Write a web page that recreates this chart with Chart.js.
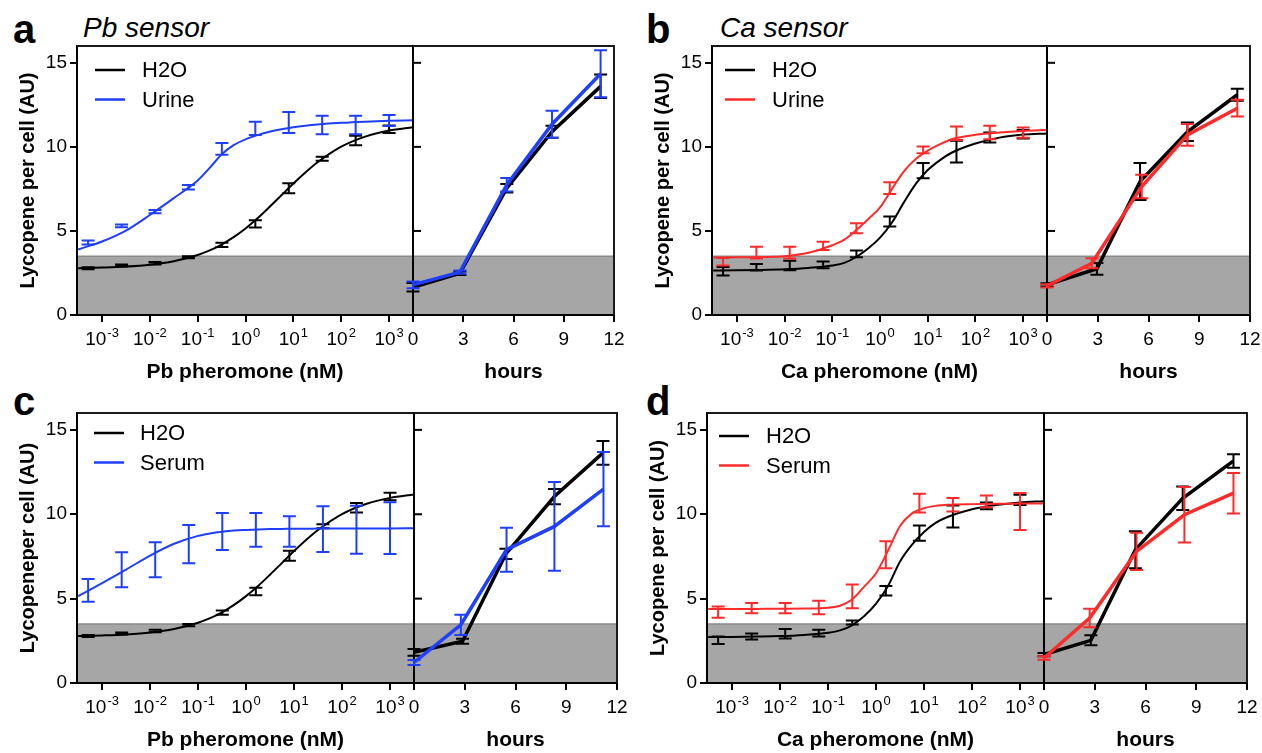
<!DOCTYPE html>
<html>
<head>
<meta charset="utf-8">
<script src="https://cdn.jsdelivr.net/npm/chart.js@4.4.1/dist/chart.umd.min.js"></script>
<style>
  body { margin: 0; background: #fff; }
  #fig { position: relative; width: 1262px; height: 753px; overflow: hidden; font-family: "Liberation Sans", Arial, sans-serif; color: #000; }
  #fig canvas { position: absolute; }
  .letter { position: absolute; font-size: 40px; font-weight: bold; line-height: 1; }
  .sensor { position: absolute; font-size: 28px; font-style: italic; line-height: 1; }
</style>
</head>
<body>
<div id="fig">
  <div class="letter" style="left:13px;top:9px">a</div>
  <div class="sensor" style="left:83px;top:14px">Pb sensor</div>
  <div class="letter" style="left:646px;top:9px">b</div>
  <div class="sensor" style="left:720px;top:14px">Ca sensor</div>
  <div class="letter" style="left:13px;top:381px">c</div>
  <div class="letter" style="left:646px;top:381px">d</div>
</div>
<script>
// pheromone doses of the ten wells (nM)
const doses = [0.000512, 0.00256, 0.0128, 0.064, 0.32, 1.6, 8, 40, 200, 1000];
const fitDoses = [0.000317, 0.001, 0.00316, 0.01, 0.0316, 0.1, 0.178, 0.316, 0.562, 1, 1.78, 3.16, 5.62, 10, 17.8, 31.6, 100, 316, 1000, 3160];

const doseTicks = [0.001, 0.01, 0.1, 1, 10, 100, 1000];
const doseTickExps = ['-3', '-2', '-1', '0', '1', '2', '3'];
const hourTicks = [0, 3, 6, 9, 12];
const yTicks = [0, 5, 10, 15];
const background = 3.5;

// a: Pb sensor, H2O vs urine
const pbWater = [2.78, 2.94, 3.08, 3.43, 4.17, 5.42, 7.54, 9.29, 10.38, 11.05];
const pbWaterErr = [0.06, 0.06, 0.07, 0.06, 0.12, 0.22, 0.3, 0.12, 0.28, 0.22];
const pbWaterFit = [2.78, 2.82, 2.88, 2.99, 3.2, 3.57, 3.84, 4.19, 4.63, 5.15, 5.75, 6.42, 7.12, 7.82, 8.48, 9.07, 10.01, 10.61, 10.97, 11.17];
const pbUrine = [4.31, 5.3, 6.15, 7.6, 9.88, 11.1, 11.45, 11.3, 11.3, 11.57];
const pbUrineErr = [0.12, 0.08, 0.1, 0.13, 0.35, 0.4, 0.62, 0.55, 0.55, 0.33];
const pbUrineFit = [3.9, 4.37, 5.02, 5.95, 6.95, 8.0, 8.75, 9.55, 10.1, 10.45, 10.7, 10.9, 11.05, 11.17, 11.26, 11.33, 11.43, 11.5, 11.55, 11.58];

const aHoursWater = [0, 2.8, 5.6, 8.3, 11.2];
const aTimeWater = [1.65, 2.48, 7.54, 10.9, 13.6];
const aTimeWaterErr = [0.25, 0.1, 0.25, 0.35, 0.7];
const aHoursUrine = [0, 2.8, 5.6, 8.3, 11.2];
const aTimeUrine = [1.79, 2.55, 7.75, 11.35, 14.35];
const aTimeUrineErr = [0.2, 0.1, 0.4, 0.8, 1.4];

// b: Ca sensor, H2O vs urine
const caWater = [2.6, 2.84, 2.94, 2.98, 3.63, 5.56, 8.59, 9.72, 10.56, 10.75];
const caWaterErr = [0.25, 0.2, 0.28, 0.2, 0.2, 0.3, 0.45, 0.65, 0.3, 0.25];
const caWaterFit = [2.65, 2.66, 2.68, 2.72, 2.8, 2.95, 3.1, 3.45, 3.95, 4.6, 5.5, 6.7, 7.8, 8.62, 9.2, 9.65, 10.2, 10.55, 10.73, 10.8];
const caUrine = [3.17, 3.71, 3.71, 4.11, 5.16, 7.54, 9.82, 10.81, 10.85, 10.85];
const caUrineErr = [0.22, 0.35, 0.35, 0.25, 0.3, 0.35, 0.2, 0.4, 0.4, 0.3];
const caUrineFit = [3.42, 3.43, 3.45, 3.5, 3.7, 4.15, 4.48, 5.05, 5.7, 6.4, 7.5, 8.55, 9.28, 9.78, 10.15, 10.45, 10.72, 10.86, 10.95, 11.0];

const bHoursWater = [0, 2.95, 5.5, 8.3, 11.25];
const bTimeWater = [1.79, 2.75, 7.94, 10.9, 13.1];
const bTimeWaterErr = [0.1, 0.35, 1.1, 0.55, 0.35];
const bHoursUrine = [0, 2.65, 5.6, 8.3, 11.25];
const bTimeUrine = [1.73, 3.08, 7.64, 10.71, 12.3];
const bTimeUrineErr = [0.1, 0.3, 0.7, 0.65, 0.5];

// c: Pb sensor, H2O vs serum
const pbSerum = [5.49, 6.71, 7.3, 8.23, 8.98, 9.08, 8.98, 9.12, 9.08, 9.18];
const pbSerumErr = [0.67, 1.04, 1.04, 1.14, 1.1, 1.0, 0.9, 1.36, 1.42, 1.53];
const pbSerumFit = [5.15, 5.92, 6.72, 7.55, 8.25, 8.72, 8.86, 8.96, 9.03, 9.07, 9.1, 9.12, 9.13, 9.14, 9.14, 9.15, 9.15, 9.16, 9.16, 9.17];

const cHoursWater = [0, 2.87, 5.43, 8.3, 11.17];
const cTimeWater = [1.82, 2.47, 7.65, 11.05, 13.64];
const cTimeWaterErr = [0.2, 0.15, 0.3, 0.45, 0.7];
const cHoursSerum = [0, 2.77, 5.47, 8.3, 11.2];
const cTimeSerum = [1.22, 3.45, 7.9, 9.28, 11.49];
const cTimeSerumErr = [0.15, 0.6, 1.3, 2.63, 2.2];

// d: Ca sensor, H2O vs serum
const caWater2 = [2.53, 2.76, 2.92, 2.96, 3.59, 5.47, 8.88, 9.87, 10.5, 10.85];
const caWater2Err = [0.22, 0.18, 0.28, 0.2, 0.12, 0.28, 0.45, 0.65, 0.2, 0.3];
const caWater2Fit = [2.72, 2.73, 2.75, 2.78, 2.85, 2.98, 3.12, 3.42, 3.95, 4.7, 5.75, 7.2, 8.2, 8.95, 9.5, 9.85, 10.3, 10.55, 10.7, 10.77];
const caSerum = [4.2, 4.44, 4.44, 4.48, 5.13, 7.6, 10.66, 10.56, 10.76, 10.16];
const caSerumErr = [0.33, 0.3, 0.3, 0.4, 0.7, 0.8, 0.55, 0.4, 0.35, 1.1];
const caSerumFit = [4.38, 4.38, 4.39, 4.4, 4.41, 4.46, 4.58, 4.95, 5.7, 6.5, 7.85, 9.3, 10.05, 10.36, 10.5, 10.56, 10.6, 10.62, 10.63, 10.64];

const dHoursWater = [0, 2.77, 5.4, 8.2, 11.2];
const dTimeWater = [1.68, 2.53, 7.9, 10.95, 13.16];
const dTimeWaterErr = [0.1, 0.3, 1.1, 0.7, 0.4];
const dHoursSerum = [0, 2.7, 5.47, 8.3, 11.2];
const dTimeSerum = [1.48, 3.85, 7.8, 9.97, 11.25];
const dTimeSerumErr = [0.1, 0.55, 1.1, 1.65, 1.2];

const FONT = '"Liberation Sans", Arial, sans-serif';
const BLUE = '#1f3fff';
const RED = '#ff2a2a';

// gray background band, error bars, frame, tick labels, titles, legend
const decor = {
    id: 'decor',
    beforeDraw(chart) {
        const { ctx, chartArea: a, scales: { y } } = chart;
        const top = y.getPixelForValue(background);
        const bottom = y.getPixelForValue(0);
        ctx.save();
        ctx.fillStyle = '#a6a6a6';
        ctx.fillRect(a.left, top, a.right - a.left, bottom - top);
        ctx.strokeStyle = '#8a8a8a';
        ctx.lineWidth = 1.5;
        ctx.beginPath();
        ctx.moveTo(a.left, top);
        ctx.lineTo(a.right, top);
        ctx.stroke();
        ctx.restore();
    },
    afterDatasetDraw(chart, args) {
        const ds = chart.data.datasets[args.index];
        if (!ds.errors) return;
        const { ctx, scales: { x, y } } = chart;
        ctx.save();
        ctx.strokeStyle = ds.borderColor;
        ctx.lineWidth = 2;
        ds.data.forEach((pt, i) => {
            const px = x.getPixelForValue(pt.x);
            const hi = y.getPixelForValue(pt.y + ds.errors[i]);
            const lo = y.getPixelForValue(pt.y - ds.errors[i]);
            ctx.beginPath();
            ctx.moveTo(px, hi); ctx.lineTo(px, lo);
            ctx.moveTo(px - 6.5, hi); ctx.lineTo(px + 6.5, hi);
            ctx.moveTo(px - 6.5, lo); ctx.lineTo(px + 6.5, lo);
            ctx.stroke();
        });
        ctx.restore();
    },
    afterDraw(chart, args, o) {
        const { ctx, chartArea: a, scales: { x, y } } = chart;
        ctx.save();
        ctx.fillStyle = '#000';
        ctx.strokeStyle = '#1a1a1a';
        ctx.lineWidth = 2;
        ctx.beginPath();
        ctx.moveTo(a.left, a.top);
        ctx.lineTo(a.right, a.top);
        if (o.kind === 'time') ctx.lineTo(a.right, a.bottom);
        ctx.stroke();

        if (o.kind === 'dose') {
            ctx.font = '19px ' + FONT;
            ctx.textAlign = 'right';
            ctx.textBaseline = 'middle';
            yTicks.forEach(v => ctx.fillText(String(v), a.left - 10, y.getPixelForValue(v)));

            ctx.textAlign = 'left';
            ctx.textBaseline = 'alphabetic';
            doseTicks.forEach((v, i) => {
                ctx.font = '19px ' + FONT;
                const wb = ctx.measureText('10').width;
                ctx.font = '13px ' + FONT;
                const we = ctx.measureText(doseTickExps[i]).width;
                const start = x.getPixelForValue(v) - (wb + we + 1) / 2;
                ctx.font = '19px ' + FONT;
                ctx.fillText('10', start, a.bottom + 30);
                ctx.font = '13px ' + FONT;
                ctx.fillText(doseTickExps[i], start + wb + 1, a.bottom + 22);
            });

            ctx.save();
            ctx.font = 'bold 20px ' + FONT;
            ctx.textAlign = 'center';
            ctx.textBaseline = 'middle';
            ctx.translate(a.left - 49, (a.top + a.bottom) / 2);
            ctx.rotate(-Math.PI / 2);
            ctx.fillText(o.yTitle, 0, 0);
            ctx.restore();

            ctx.font = '22px ' + FONT;
            ctx.textAlign = 'left';
            ctx.textBaseline = 'middle';
            o.legend.forEach((item, i) => {
                const ly = a.top + o.legendPos[1] + i * 29.5;
                ctx.strokeStyle = item.color;
                ctx.lineWidth = 2.5;
                ctx.beginPath();
                ctx.moveTo(a.left + o.legendPos[0], ly);
                ctx.lineTo(a.left + o.legendPos[0] + 30, ly);
                ctx.stroke();
                ctx.fillText(item.label, a.left + o.legendPos[2], ly + 1);
            });
        } else {
            ctx.strokeStyle = '#000';
            yTicks.slice(1).forEach(v => {
                const py = y.getPixelForValue(v);
                ctx.beginPath();
                ctx.moveTo(a.left, py);
                ctx.lineTo(a.left + 8, py);
                ctx.stroke();
            });
            ctx.font = '19px ' + FONT;
            ctx.textAlign = 'center';
            ctx.textBaseline = 'alphabetic';
            hourTicks.forEach(v => ctx.fillText(String(v), x.getPixelForValue(v), a.bottom + 30));
        }

        ctx.font = 'bold 21px ' + FONT;
        ctx.textAlign = 'center';
        ctx.textBaseline = 'alphabetic';
        ctx.fillText(o.xTitle, (a.left + a.right) / 2, a.bottom + 63);
        ctx.restore();
    }
};

function addCanvas(id, left, top, width, height) {
    const c = document.createElement('canvas');
    c.id = id;
    c.width = width;
    c.height = height;
    c.style.left = left + 'px';
    c.style.top = top + 'px';
    c.style.width = width + 'px';
    c.style.height = height + 'px';
    document.querySelector('#fig').appendChild(c);
    return c;
}

function pairs(xs, ys) {
    return xs.map((x, i) => ({ x: x, y: ys[i] }));
}

function yAxis(width, ticks) {
    return {
        type: 'linear',
        min: 0,
        max: 16,
        afterBuildTicks: s => { s.ticks = yTicks.map(v => ({ value: v })); },
        afterFit: s => { s.width = width; },
        ticks: { display: false },
        grid: { display: ticks, drawOnChartArea: false, drawTicks: true, tickLength: 7, color: '#000', lineWidth: 2 },
        border: { display: true, color: '#000', width: 2 },
    };
}

function doseChart(p) {
    const b = p.box;
    const canvas = addCanvas(p.id + '-dose', b.L - 80, b.T - 12, b.S - b.L + 86, b.B - b.T + 84);
    const pts = (vals, errs, color) => ({
        data: pairs(doses, vals), errors: errs, borderColor: color, backgroundColor: color,
        showLine: false, pointRadius: 0,
    });
    const fit = (vals, color) => ({
        data: pairs(fitDoses, vals), borderColor: color, borderWidth: 2,
        pointRadius: 0, cubicInterpolationMode: 'monotone', fill: false,
    });
    new Chart(canvas.getContext('2d'), {
        type: 'line',
        data: {
            datasets: [
                pts(p.sample, p.sampleErr, p.color),
                fit(p.sampleFit, p.color),
                pts(p.water, p.waterErr, '#000'),
                fit(p.waterFit, '#000'),
            ]
        },
        options: {
            responsive: false,
            animation: false,
            devicePixelRatio: 1,
            layout: { padding: { left: 0, top: 12, right: 6, bottom: 0 } },
            scales: {
                x: {
                    type: 'logarithmic',
                    min: Math.pow(10, -3.5),
                    max: Math.pow(10, 3.5),
                    afterBuildTicks: s => { s.ticks = doseTicks.map(v => ({ value: v })); },
                    afterFit: s => { s.height = 72; },
                    ticks: { display: false },
                    grid: { display: true, drawOnChartArea: false, drawTicks: true, tickLength: 7, color: '#000', lineWidth: 2 },
                    border: { display: true, color: '#000', width: 2 },
                },
                y: yAxis(80, true),
            },
            plugins: {
                legend: { display: false },
                tooltip: { enabled: false },
                decor: {
                    kind: 'dose', xTitle: p.xTitle, yTitle: p.yTitle, legendPos: p.legendPos,
                    legend: [{ label: 'H2O', color: '#000' }, { label: p.sampleName, color: p.color }],
                },
            },
        },
        plugins: [decor],
    });
}

function timeChart(p) {
    const b = p.box;
    const canvas = addCanvas(p.id + '-time', b.S - 12, b.T - 12, b.R - b.S + 28, b.B - b.T + 84);
    const series = (hours, vals, errs, color) => ({
        data: pairs(hours, vals), errors: errs, borderColor: color, backgroundColor: color,
        borderWidth: 3.5, pointRadius: 0, tension: 0, fill: false,
    });
    new Chart(canvas.getContext('2d'), {
        type: 'line',
        data: {
            datasets: [
                series(p.hoursSample, p.timeSample, p.timeSampleErr, p.color),
                series(p.hoursWater, p.timeWater, p.timeWaterErr, '#000'),
            ]
        },
        options: {
            responsive: false,
            animation: false,
            devicePixelRatio: 1,
            layout: { padding: { left: 12, top: 12, right: 16, bottom: 0 } },
            scales: {
                x: {
                    type: 'linear',
                    min: 0,
                    max: 12,
                    afterBuildTicks: s => { s.ticks = hourTicks.map(v => ({ value: v })); },
                    afterFit: s => { s.height = 72; },
                    ticks: { display: false },
                    grid: { display: true, drawOnChartArea: false, drawTicks: true, tickLength: 7, color: '#000', lineWidth: 2 },
                    border: { display: true, color: '#000', width: 2 },
                },
                y: yAxis(0, false),
            },
            plugins: {
                legend: { display: false },
                tooltip: { enabled: false },
                decor: { kind: 'time', xTitle: 'hours' },
            },
        },
        plugins: [decor],
    });
}

const panels = [
    {
        id: 'a', box: { L: 77, S: 413, R: 614, T: 46, B: 315 }, legendPos: [18, 24, 65],
        xTitle: 'Pb pheromone (nM)', yTitle: 'Lycopene per cell (AU)', sampleName: 'Urine', color: BLUE,
        water: pbWater, waterErr: pbWaterErr, waterFit: pbWaterFit,
        sample: pbUrine, sampleErr: pbUrineErr, sampleFit: pbUrineFit,
        hoursWater: aHoursWater, timeWater: aTimeWater, timeWaterErr: aTimeWaterErr,
        hoursSample: aHoursUrine, timeSample: aTimeUrine, timeSampleErr: aTimeUrineErr,
    },
    {
        id: 'b', box: { L: 712, S: 1047, R: 1250, T: 46, B: 315 }, legendPos: [13, 24, 60],
        xTitle: 'Ca pheromone (nM)', yTitle: 'Lycopene per cell (AU)', sampleName: 'Urine', color: RED,
        water: caWater, waterErr: caWaterErr, waterFit: caWaterFit,
        sample: caUrine, sampleErr: caUrineErr, sampleFit: caUrineFit,
        hoursWater: bHoursWater, timeWater: bTimeWater, timeWaterErr: bTimeWaterErr,
        hoursSample: bHoursUrine, timeSample: bTimeUrine, timeSampleErr: bTimeUrineErr,
    },
    {
        id: 'c', box: { L: 77, S: 414, R: 617, T: 413, B: 683 }, legendPos: [17, 20, 63],
        xTitle: 'Pb pheromone (nM)', yTitle: 'Lycopeneper cell (AU)', sampleName: 'Serum', color: BLUE,
        water: pbWater, waterErr: pbWaterErr, waterFit: pbWaterFit,
        sample: pbSerum, sampleErr: pbSerumErr, sampleFit: pbSerumFit,
        hoursWater: cHoursWater, timeWater: cTimeWater, timeWaterErr: cTimeWaterErr,
        hoursSample: cHoursSerum, timeSample: cTimeSerum, timeSampleErr: cTimeSerumErr,
    },
    {
        id: 'd', box: { L: 707, S: 1044, R: 1247, T: 413, B: 683 }, legendPos: [12, 23, 59],
        xTitle: 'Ca pheromone (nM)', yTitle: 'Lycopene per cell (AU)', sampleName: 'Serum', color: RED,
        water: caWater2, waterErr: caWater2Err, waterFit: caWater2Fit,
        sample: caSerum, sampleErr: caSerumErr, sampleFit: caSerumFit,
        hoursWater: dHoursWater, timeWater: dTimeWater, timeWaterErr: dTimeWaterErr,
        hoursSample: dHoursSerum, timeSample: dTimeSerum, timeSampleErr: dTimeSerumErr,
    },
];

panels.forEach(p => {
    doseChart(p);
    timeChart(p);
});
</script>
</body>
</html>
